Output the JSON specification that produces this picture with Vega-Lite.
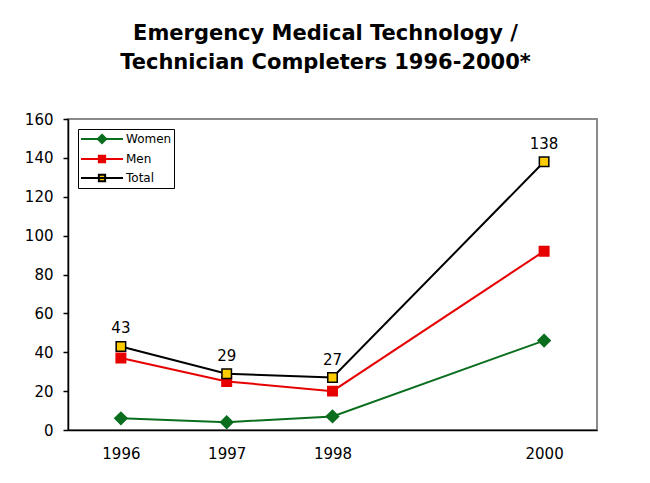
{
  "$schema": "https://vega.github.io/schema/vega-lite/v6.json",
  "width": 529,
  "height": 311,
  "autosize": {"type": "none"},
  "padding": {"left": 68, "top": 119, "right": 53, "bottom": 53},
  "background": "white",
  "title": {
    "text": ["Emergency Medical Technology /", "Technician Completers 1996-2000*"],
    "font": "DejaVu Sans",
    "fontSize": 21,
    "fontWeight": "bold",
    "color": "black",
    "anchor": "middle",
    "offset": 39,
    "dx": -7,
    "lineHeight": 29
  },
  "config": {
    "view": {"stroke": "#8a8a8a", "strokeWidth": 2},
    "font": "DejaVu Sans",
    "axis": {"labelFont": "DejaVu Sans", "labelFontSize": 15, "labelColor": "black", "grid": false, "domainColor": "black", "domainWidth": 1.5, "tickColor": "black", "title": null}
  },
  "data": {
    "values": [
      {"year": 1996, "series": "Women", "count": 6},
      {"year": 1997, "series": "Women", "count": 4},
      {"year": 1998, "series": "Women", "count": 7},
      {"year": 2000, "series": "Women", "count": 46},
      {"year": 1996, "series": "Men", "count": 37},
      {"year": 1997, "series": "Men", "count": 25},
      {"year": 1998, "series": "Men", "count": 20},
      {"year": 2000, "series": "Men", "count": 92},
      {"year": 1996, "series": "Total", "count": 43},
      {"year": 1997, "series": "Total", "count": 29},
      {"year": 1998, "series": "Total", "count": 27},
      {"year": 2000, "series": "Total", "count": 138}
    ]
  },
  "encoding": {
    "x": {"field": "year", "type": "quantitative", "scale": {"domain": [1995.5, 2000.5], "nice": false, "zero": false},
      "axis": {"values": [1996, 1997, 1998, 2000], "format": "d", "ticks": false, "labelPadding": 16, "labelFontSize": 15}},
    "y": {"field": "count", "type": "quantitative", "scale": {"domain": [0, 160], "nice": false},
      "axis": {"values": [0, 20, 40, 60, 80, 100, 120, 140, 160], "tickSize": 5, "tickWidth": 1.5, "labelPadding": 10, "labelFontSize": 15}}
  },
  "layer": [
    {
      "mark": {"type": "line", "strokeWidth": 2},
      "encoding": {
        "stroke": {"field": "series", "type": "nominal", "scale": {"domain": ["Women", "Men", "Total"], "range": ["#0a6e1e", "#e60000", "black"]},
          "legend": {
            "title": null, "orient": "none", "legendX": 10, "legendY": 10,
            "strokeColor": "black", "fillColor": "white", "padding": 2,
            "labelFont": "DejaVu Sans", "labelFontSize": 12, "labelColor": "black",
            "symbolSize": 196, "labelOffset": 30, "rowPadding": 3,
            "encode": {"symbols": {"update": {
              "shape": {"signal": "datum.value === 'Women' ? 'M-1,0H5M2,-0.6L2.6,0L2,0.6L1.4,0Z' : 'M-1,0H5M1.55,-0.45H2.45V0.45H1.55Z'"},
              "size": {"value": 196},
              "strokeWidth": {"value": 2},
              "opacity": {"value": 1}
            }}}
          }},
        "detail": {"field": "series"}
      }
    },
    {
      "transform": [{"filter": "datum.series === 'Women'"}],
      "mark": {"type": "point", "filled": true, "opacity": 1, "strokeWidth": 1.5, "shape": "diamond", "size": 150},
      "encoding": {
        "fill": {"field": "series", "type": "nominal", "scale": {"domain": ["Women", "Men", "Total"], "range": ["#0a6e1e", "#e60000", "#ffcc00"]}},
        "stroke": {"field": "series", "type": "nominal"}
      }
    },
    {
      "transform": [{"filter": "datum.series !== 'Women'"}],
      "mark": {"type": "point", "filled": true, "opacity": 1, "strokeWidth": 1.5, "shape": "square", "size": 90},
      "encoding": {
        "fill": {"field": "series", "type": "nominal"},
        "stroke": {"field": "series", "type": "nominal"}
      }
    },
    {
      "transform": [{"filter": "datum.series === 'Total'"}],
      "mark": {"type": "text", "baseline": "bottom", "dy": -10, "fontSize": 15, "font": "DejaVu Sans", "color": "black"},
      "encoding": {"text": {"field": "count", "type": "quantitative"}}
    }
  ]
}
